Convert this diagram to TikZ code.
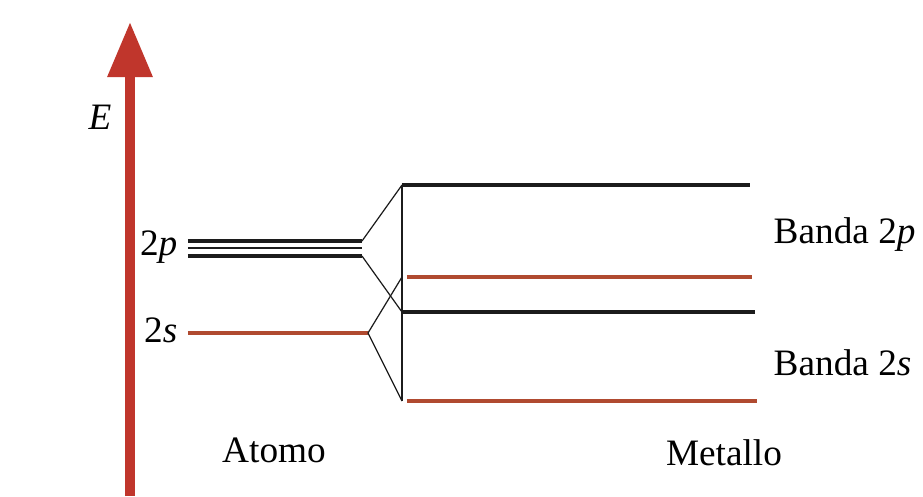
\documentclass[tikz,border=0pt]{standalone}
\usepackage{fontspec}
\setmainfont{Liberation Serif}
\usetikzlibrary{arrows.meta}

\definecolor{axisred}{HTML}{C0362C}
\definecolor{slevel}{HTML}{B04A30}
\definecolor{plevel}{HTML}{1C1C1C}

\begin{document}
\begin{tikzpicture}[x=0.01cm, y=-0.01cm, font=\fontsize{10.6}{12}\selectfont,
    plev/.style={plevel, line width=0.9pt},
    slev/.style={slevel, line width=0.9pt},
    fan/.style={plevel, line width=0.35pt},
    lab/.style={inner sep=0pt}]
\useasboundingbox (0,0) rectangle (923,496);

% Energy axis
\coordinate (axbot) at (130,496);
\coordinate (axtop) at (130,22);
\draw[axisred, line width=2.7pt, -{Triangle[length=5.5mm, width=4.3mm]}] (axbot) -- (axtop);
\node[lab, anchor=base east] (elab) at (112,129) {\textit{E}};

% Atomic levels
\coordinate (p1a) at (188,241); \coordinate (p1b) at (362,241);
\coordinate (p2a) at (188,248); \coordinate (p2b) at (362,248);
\coordinate (p3a) at (188,256); \coordinate (p3b) at (362,256);
\coordinate (sa) at (188,333);  \coordinate (sb) at (368,333);
\draw[plev] (p1a) -- (p1b);
\draw[plev, line width=0.5pt] (p2a) -- (p2b);
\draw[plev] (p3a) -- (p3b);
\draw[slev] (sa) -- (sb);
\node[lab, anchor=base east] (plab) at (178,255) {2\textit{p}};
\node[lab, anchor=base east] (slab) at (178,342) {2\textit{s}};

% Metal levels (band edges)
\coordinate (m1a) at (402,185); \coordinate (m1b) at (750,185);
\coordinate (m2a) at (402,277); \coordinate (m2b) at (752,277);
\coordinate (m3a) at (402,312); \coordinate (m3b) at (755,312);
\coordinate (m4a) at (402,401); \coordinate (m4b) at (757,401);
\draw[plev] (m1a) -- (m1b);
\draw[slev] ([xshift=1.4pt]m2a) -- (m2b);
\draw[plev] (m3a) -- (m3b);
\draw[slev] ([xshift=1.4pt]m4a) -- (m4b);
\draw[fan, line width=0.45pt] (m1a) -- (m4a);

% Splitting into bands
\draw[fan] (p1b) -- (m1a);
\draw[fan] (p3b) -- (m3a);
\draw[fan] (sb) -- (m2a);
\draw[fan] (sb) -- (m4a);

% Labels
\node[lab, anchor=base west] (bandp) at (773,243) {Banda 2\textit{p}};
\node[lab, anchor=base west] (bands) at (773,375) {Banda 2\textit{s}};
\node[lab, anchor=base] (atomo) at (274,462) {Atomo};
\node[lab, anchor=base] (metallo) at (724,465) {Metallo};

\end{tikzpicture}
\end{document}
